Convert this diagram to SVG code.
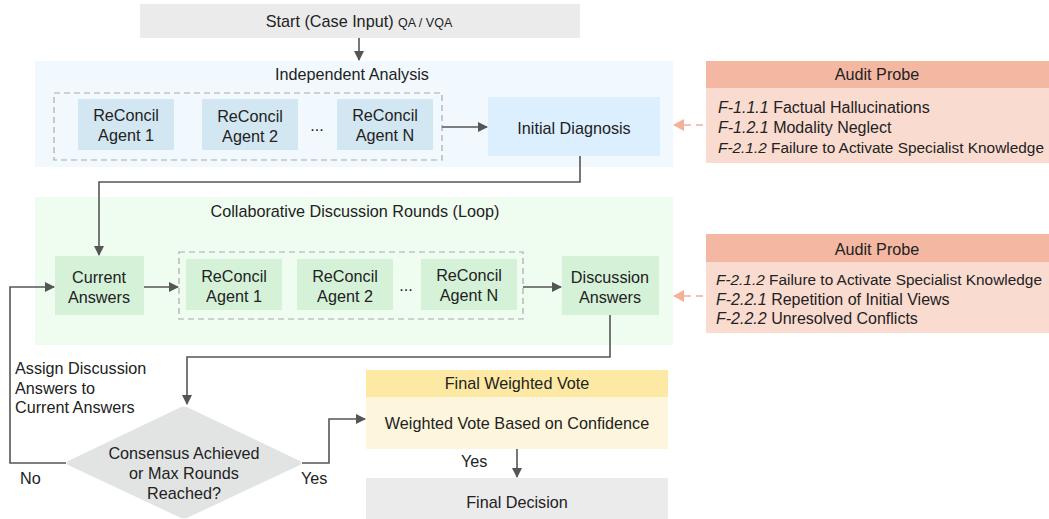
<svg xmlns="http://www.w3.org/2000/svg" width="1049" height="519" viewBox="0 0 1049 519">
<defs>
<style>
text{font-family:"Liberation Sans",Arial,sans-serif;font-size:16.2px;fill:#222;}
.c{text-anchor:middle;}
.it{font-style:italic;}
.au{font-size:16px;}
.aul{font-size:15.4px;}
.ln{fill:none;stroke:#555;stroke-width:1.6;}
.dl{fill:none;stroke:#f4b09a;stroke-width:1.6;stroke-dasharray:7,5;}
.agB{fill:#d3e7f2;}
.agG{fill:#d5f2d9;}
.dash{fill:none;stroke:#aaa;stroke-width:1.2;stroke-dasharray:6,4;}
</style>
<marker id="ah" markerWidth="10" markerHeight="10" refX="9" refY="5" orient="auto" markerUnits="userSpaceOnUse">
<path d="M0,0 L10,5 L0,10 Z" fill="#555"/>
</marker>
<marker id="ahp" markerWidth="12" markerHeight="12" refX="10" refY="6" orient="auto" markerUnits="userSpaceOnUse">
<path d="M0,0 L11,6 L0,12 Z" fill="#f4b09a"/>
</marker>
</defs>
<rect width="1049" height="519" fill="#fff"/>

<g id="start">
<rect x="140" y="4" width="440" height="34" fill="#ebebeb"/>
<text x="359" y="27" class="c">Start (Case Input) <tspan style="font-size:12.5px">QA / VQA</tspan></text>
</g>

<g id="independent-analysis">
<rect x="35" y="61" width="638" height="106" fill="#f2f9fe"/>
<text x="352" y="80" class="c">Independent Analysis</text>
<rect x="54" y="93" width="388" height="67" class="dash"/>
</g>
<g id="agent1-a"><rect x="78" y="99" width="96" height="51" class="agB"/><text x="126" y="121" class="c">ReConcil</text><text x="126" y="141" class="c">Agent 1</text></g>
<g id="agent2-a"><rect x="202" y="99" width="96" height="51" class="agB"/><text x="250" y="122" class="c">ReConcil</text><text x="250" y="142" class="c">Agent 2</text></g>
<g id="dots-a"><text x="317" y="131" class="c">...</text></g>
<g id="agentN-a"><rect x="337" y="99" width="96" height="51" class="agB"/><text x="385" y="121" class="c">ReConcil</text><text x="385" y="141" class="c">Agent N</text></g>
<g id="initial-diagnosis"><rect x="488" y="97" width="172" height="59" fill="#dcefff"/><text x="574" y="134" class="c">Initial Diagnosis</text></g>

<g id="audit1">
<rect x="706" y="61" width="343" height="27" fill="#f4b8a2"/>
<rect x="706" y="88" width="343" height="75" fill="#fadbd0"/>
<text x="877" y="80" class="c">Audit Probe</text>
<text x="718" y="113" class="au"><tspan class="it">F-1.1.1</tspan> Factual Hallucinations</text>
<text x="718" y="133" class="au"><tspan class="it">F-1.2.1</tspan> Modality Neglect</text>
<text x="718" y="153" class="aul"><tspan class="it">F-2.1.2</tspan> Failure to Activate Specialist Knowledge</text>
</g>

<g id="collab">
<rect x="35" y="197" width="638" height="148" fill="#effdf0"/>
<text x="355" y="217" class="c">Collaborative Discussion Rounds (Loop)</text>
<rect x="179" y="252" width="344" height="67" class="dash"/>
</g>
<g id="current-answers"><rect x="55" y="256" width="89" height="59" class="agG"/><text x="99" y="283" class="c">Current</text><text x="99" y="303" class="c">Answers</text></g>
<g id="agent1-b"><rect x="186" y="259" width="96" height="51" class="agG"/><text x="234" y="282" class="c">ReConcil</text><text x="234" y="302" class="c">Agent 1</text></g>
<g id="agent2-b"><rect x="297" y="259" width="96" height="51" class="agG"/><text x="345" y="282" class="c">ReConcil</text><text x="345" y="302" class="c">Agent 2</text></g>
<g id="dots-b"><text x="406" y="291" class="c">...</text></g>
<g id="agentN-b"><rect x="421" y="259" width="96" height="51" class="agG"/><text x="469" y="281" class="c">ReConcil</text><text x="469" y="301" class="c">Agent N</text></g>
<g id="discussion-answers"><rect x="562" y="256" width="97" height="59" class="agG"/><text x="610" y="283" class="c">Discussion</text><text x="610" y="303" class="c">Answers</text></g>

<g id="audit2">
<rect x="706" y="234" width="343" height="28" fill="#f4b8a2"/>
<rect x="706" y="262" width="343" height="71" fill="#fadbd0"/>
<text x="877" y="255" class="c">Audit Probe</text>
<text x="716" y="285" class="aul"><tspan class="it">F-2.1.2</tspan> Failure to Activate Specialist Knowledge</text>
<text x="716" y="305" class="au"><tspan class="it">F-2.2.1</tspan> Repetition of Initial Views</text>
<text x="716" y="324" class="au"><tspan class="it">F-2.2.2</tspan> Unresolved Conflicts</text>
</g>

<g id="decision">
<path d="M184,407 Q186,406 189,408 L300,461 Q303,463 300,465 L189,517 Q184,520 179,517 L68,465 Q65,463 68,461 L179,408 Q182,406 184,407 Z" fill="#e2e4e4"/>
<text x="184" y="459" class="c">Consensus Achieved</text>
<text x="184" y="479" class="c">or Max Rounds</text>
<text x="184" y="499" class="c">Reached?</text>
</g>

<g id="final-vote">
<rect x="366" y="370" width="302" height="27" fill="#fde9a3"/>
<rect x="366" y="397" width="302" height="52" fill="#fef6dc"/>
<text x="517" y="389" class="c">Final Weighted Vote</text>
<text x="517" y="429" class="c">Weighted Vote Based on Confidence</text>
</g>

<g id="final-decision">
<rect x="366" y="478" width="302" height="41" fill="#ebebeb"/>
<text x="517" y="508" class="c">Final Decision</text>
</g>

<g id="labels">
<text x="15" y="374">Assign Discussion</text>
<text x="15" y="394">Answers to</text>
<text x="15" y="413">Current Answers</text>
<text x="20" y="484">No</text>
<text x="301" y="484">Yes</text>
<text x="461" y="467">Yes</text>
</g>

<g id="connectors">
<path class="ln" d="M359,38 V60" marker-end="url(#ah)"/>
<path class="ln" d="M442,127 H487" marker-end="url(#ah)"/>
<path class="ln" d="M580,156 V182 H99 V255" marker-end="url(#ah)"/>
<path class="ln" d="M144,287 H178" marker-end="url(#ah)"/>
<path class="ln" d="M523,287 H561" marker-end="url(#ah)"/>
<path class="ln" d="M610,315 V357 H187 V404" marker-end="url(#ah)"/>
<path class="ln" d="M66,463 H10 V287 H54" marker-end="url(#ah)"/>
<path class="ln" d="M302,463 H329 V419 H365" marker-end="url(#ah)"/>
<path class="ln" d="M517,449 V477" marker-end="url(#ah)"/>
<path class="dl" d="M703,125 H674" marker-end="url(#ahp)"/>
<path class="dl" d="M703,296 H674" marker-end="url(#ahp)"/>
</g>
</svg>
